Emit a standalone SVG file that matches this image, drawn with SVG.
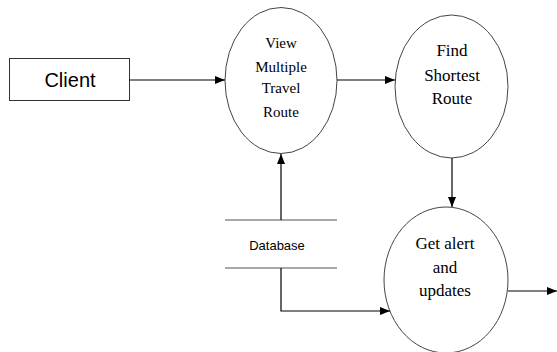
<svg xmlns="http://www.w3.org/2000/svg" width="557" height="352" viewBox="0 0 557 352">
<style>
.proc{fill:#fff;stroke:#444;stroke-width:1}
.lbl{font-family:'Liberation Serif','Times New Roman',serif;fill:#000;text-anchor:middle}
.conn{fill:none;stroke:#000;stroke-width:1.2}
.store{stroke:#555;stroke-width:1.2}
</style>
<defs>
<marker id="ah" viewBox="0 0 10 8" refX="10" refY="4" markerWidth="10" markerHeight="8" markerUnits="userSpaceOnUse" orient="auto">
<path d="M0,0 L10,4 L0,8 Z" fill="#000"/>
</marker>
</defs>
<rect width="557" height="352" fill="#fff"/>
<g id="client">
<rect x="9.5" y="58.5" width="120" height="42" fill="#fff" stroke="#333" stroke-width="1"/>
<text x="70" y="87" font-family="'Liberation Sans',sans-serif" font-size="20" text-anchor="middle">Client</text>
</g>
<g id="view">
<ellipse class="proc" cx="281" cy="80.5" rx="56" ry="73"/>
<text class="lbl" font-size="15" x="281" y="48">View</text>
<text class="lbl" font-size="15" x="281" y="72">Multiple</text>
<text class="lbl" font-size="15" x="281" y="93">Travel</text>
<text class="lbl" font-size="15" x="281" y="117">Route</text>
</g>
<g id="shortest">
<ellipse class="proc" cx="451.5" cy="86.5" rx="56.5" ry="71.5"/>
<text class="lbl" font-size="17" x="452" y="56">Find</text>
<text class="lbl" font-size="17" x="452" y="81">Shortest</text>
<text class="lbl" font-size="17" x="452" y="104">Route</text>
</g>
<g id="alerts">
<ellipse class="proc" cx="446" cy="280" rx="62" ry="73"/>
<text class="lbl" font-size="17" x="445" y="249">Get alert</text>
<text class="lbl" font-size="17" x="445" y="273">and</text>
<text class="lbl" font-size="17" x="445" y="296">updates</text>
</g>
<g id="database">
<line class="store" x1="225" y1="220" x2="337" y2="220"/>
<line class="store" x1="225" y1="268" x2="337" y2="268"/>
<text x="277" y="250" font-family="'Liberation Sans',sans-serif" font-size="13" text-anchor="middle">Database</text>
</g>
<g id="connectors">
<line class="conn" x1="129.5" y1="80" x2="225" y2="80" marker-end="url(#ah)"/>
<line class="conn" x1="337" y1="80" x2="395" y2="80" marker-end="url(#ah)"/>
<line class="conn" x1="452" y1="158" x2="452" y2="207" marker-end="url(#ah)"/>
<line class="conn" x1="281" y1="220" x2="281" y2="154" marker-end="url(#ah)"/>
<polyline class="conn" points="281,268 281,311 390,311" marker-end="url(#ah)"/>
<line class="conn" x1="508" y1="291" x2="557" y2="291" marker-end="url(#ah)"/>
</g>
</svg>
